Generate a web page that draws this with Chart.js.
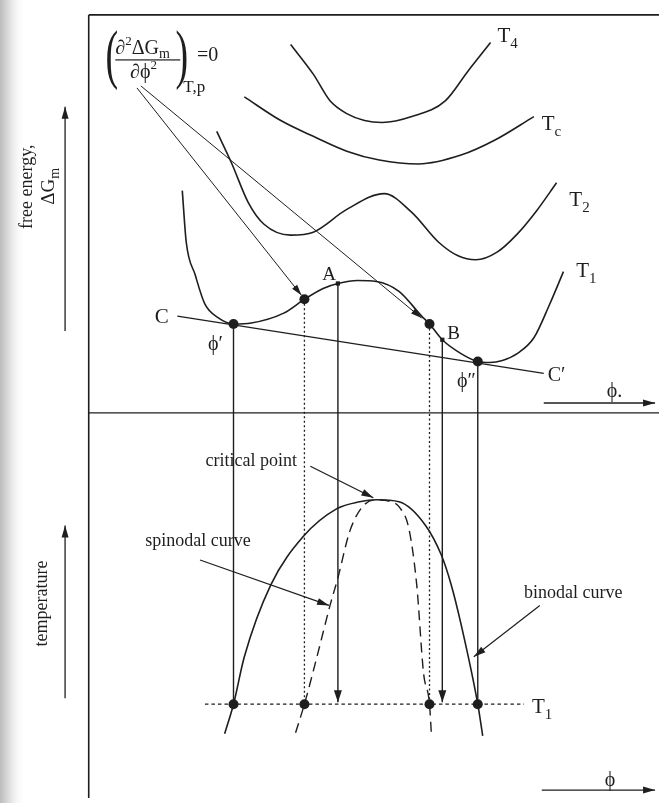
<!DOCTYPE html>
<html><head><meta charset="utf-8">
<script src="https://cdn.jsdelivr.net/npm/chart.js@4.4.1/dist/chart.umd.min.js"></script>
<style>html,body{margin:0;padding:0;background:#fff;overflow:hidden}#wrap{width:664px;height:803px;position:relative}</style>
</head><body><div id="wrap"><canvas id="c" width="664" height="803"></canvas></div>
<script>
// ---------- DATA (diagram units: x = composition phi, y = plotted height, top-down) ----------
// Free-energy curves at temperatures T4 > Tc > T2 > T1
const t4X = [290, 313, 330, 347, 365, 383, 413, 447, 470, 493];
const t4Y = [40, 70, 97, 110, 117, 119, 113, 97, 67, 38];
const tcX = [243, 280, 313, 347, 380, 420, 463, 497, 537];
const tcY = [93, 117, 133, 148, 157, 161, 152, 137, 113];
const t2X = [215, 230, 247, 263, 290, 313, 347, 385, 413, 440, 460, 478, 500, 520, 540, 560];
const t2Y = [128, 160, 200, 222, 233, 230, 207, 191, 210, 240, 254, 258, 250, 232, 208, 180];
const t1X = [180, 184, 193, 203, 217, 232, 250, 283, 304, 323, 338, 358, 377, 400, 423, 431, 444, 463, 480, 492, 505, 520, 537, 553, 567];
const t1Y = [188, 240, 273, 303, 317, 323, 322, 312, 298, 287, 282, 279, 280, 290, 315, 323, 339, 353, 361, 362, 360, 353, 337, 303, 270];
// common tangent C–C'
const tangentX = [175, 547];
const tangentY = [315, 373];
// characteristic compositions on T1
const binodalPhi = [232, 480];          // phi', phi''
const binodalG = [323, 361];
const spinodalPhi = [304, 431];
const spinodalG = [298, 323];
const pointsABPhi = [338, 444];          // A, B
const pointsABG = [282, 339];
// phase diagram (lower panel)
const binodalCurveX = [223, 232, 243, 270, 303, 337, 360, 377, 400, 427, 443, 453, 463, 480, 485];
const binodalCurveY = [738, 708, 660, 587, 538, 510, 503, 501, 503, 527, 557, 587, 627, 708, 740];
const spinodalCurveX = [295, 304, 318, 330, 338, 350, 363, 377, 392, 400, 410, 418, 425, 431, 433];
const spinodalCurveY = [737, 708, 655, 608, 580, 533, 508, 501, 503, 508, 530, 587, 677, 708, 740];
const t1LevelY = 708;
const t1LevelX = [203, 527];

// ---------- drawing helpers ----------
const INK = '#1e1e1e';
const SERIF = "'Liberation Serif','DejaVu Serif',serif";
function pts(xs, ys){ return xs.map((x,i)=>({x:x, y:ys[i]})); }
function curve(xs, ys, w, extra){
  return Object.assign({data:pts(xs,ys), showLine:true, pointRadius:0, pointHoverRadius:0,
    borderColor:INK, backgroundColor:INK, borderWidth:w, cubicInterpolationMode:'monotone', clip:false}, extra||{});
}
function seg(xs, ys, w, extra){ return curve(xs, ys, w, Object.assign({cubicInterpolationMode:'default', tension:0}, extra||{})); }
function dots(xs, ys, r, style){
  return {data:pts(xs,ys), showLine:false, pointRadius:r, pointHoverRadius:r, pointStyle:style||'circle',
    pointBackgroundColor:INK, pointBorderColor:INK, pointBorderWidth:0, clip:false};
}

const datasets = [];
// frame
datasets.push(seg([85,85],[10,803],1.6));
datasets.push(seg([85,664],[10,10],1.6));
datasets.push(seg([85,664],[413,413],1.4));
// axis arrows
datasets.push(seg([61,61],[330,103],1.3,{arrowHead:[12,3.5]}));
datasets.push(seg([61,61],[702,527],1.3,{arrowHead:[12,3.5]}));
datasets.push(seg([547,660],[403,403],1.3,{arrowHead:[12,3.5]}));
datasets.push(seg([545,660],[795,795],1.3,{arrowHead:[12,3.5]}));
// free energy curves
datasets.push(curve(t4X,t4Y,1.6));
datasets.push(curve(tcX,tcY,1.6));
datasets.push(curve(t2X,t2Y,1.6));
datasets.push(curve(t1X,t1Y,1.6));
datasets.push(seg(tangentX,tangentY,1.4));
// pointer lines from the spinodal condition
datasets.push(seg([134,spinodalPhi[0]-3],[84,spinodalG[0]-4],1,{arrowHead:[11,3.2]}));
datasets.push(seg([138,spinodalPhi[1]-8],[82,spinodalG[1]-6],1,{arrowHead:[11,3.2]}));
// vertical projections
datasets.push(seg([binodalPhi[0],binodalPhi[0]],[binodalG[0],t1LevelY],1.4));
datasets.push(seg([binodalPhi[1],binodalPhi[1]],[binodalG[1],t1LevelY],1.4));
datasets.push(seg([spinodalPhi[0],spinodalPhi[0]],[spinodalG[0],t1LevelY],1.3,{borderDash:[2,2.5]}));
datasets.push(seg([spinodalPhi[1],spinodalPhi[1]],[spinodalG[1],t1LevelY],1.3,{borderDash:[2,2.5]}));
datasets.push(seg([pointsABPhi[0],pointsABPhi[0]],[pointsABG[0],t1LevelY-2],1.4,{arrowHead:[12,4]}));
datasets.push(seg([pointsABPhi[1],pointsABPhi[1]],[pointsABG[1],t1LevelY-2],1.4,{arrowHead:[12,4]}));
// T1 level
datasets.push(seg(t1LevelX,[t1LevelY,t1LevelY],1.3,{borderDash:[3.5,3]}));
// phase diagram curves
datasets.push(curve(binodalCurveX,binodalCurveY,1.6));
datasets.push(curve(spinodalCurveX,spinodalCurveY,1.4,{borderDash:[10,6]}));
// annotation arrows
datasets.push(seg([310,374],[467,499],1.2,{arrowHead:[12,3.5]}));
datasets.push(seg([198,329],[562,608],1.2,{arrowHead:[12,3.5]}));
datasets.push(seg([543,476],[608,660],1.2,{arrowHead:[12,3.5]}));
// points
datasets.push(dots(binodalPhi,binodalG,5));
datasets.push(dots(spinodalPhi,spinodalG,5));
datasets.push(dots(pointsABPhi,pointsABG,3,'rect'));
datasets.push(dots(binodalPhi.concat(spinodalPhi),[t1LevelY,t1LevelY,t1LevelY,t1LevelY],5));

// ---------- plugins ----------
const bgPlugin = { id:'bg', beforeDraw(chart){
  const ctx = chart.ctx; ctx.save();
  ctx.fillStyle = '#fff'; ctx.fillRect(0,0,chart.width,chart.height);
  const g = ctx.createLinearGradient(0,0,26,0);
  g.addColorStop(0,'#bcbcbc'); g.addColorStop(0.35,'#dedede'); g.addColorStop(1,'rgba(255,255,255,0)');
  ctx.fillStyle = g; ctx.fillRect(0,0,26,chart.height);
  ctx.restore();
}};
const arrowPlugin = { id:'arrows', afterDatasetsDraw(chart){
  const ctx = chart.ctx, sx = chart.scales.x, sy = chart.scales.y;
  chart.data.datasets.forEach(ds=>{
    if(!ds.arrowHead) return;
    const n = ds.data.length, a = ds.data[n-2], b = ds.data[n-1];
    const x1 = sx.getPixelForValue(a.x), y1 = sy.getPixelForValue(a.y);
    const x2 = sx.getPixelForValue(b.x), y2 = sy.getPixelForValue(b.y);
    const ang = Math.atan2(y2-y1, x2-x1), L = ds.arrowHead[0], W = ds.arrowHead[1];
    const c = Math.cos(ang), s = Math.sin(ang);
    ctx.save(); ctx.fillStyle = INK; ctx.beginPath();
    ctx.moveTo(x2,y2);
    ctx.lineTo(x2-L*c+W*s, y2-L*s-W*c);
    ctx.lineTo(x2-L*c-W*s, y2-L*s+W*c);
    ctx.closePath(); ctx.fill(); ctx.restore();
  });
}};
function rich(ctx, x, y, parts){
  let cx = x;
  parts.forEach(p=>{
    ctx.font = (p.s||20)+'px '+SERIF;
    ctx.fillText(p.t, cx, y+(p.dy||0));
    cx += ctx.measureText(p.t).width + (p.gap||0);
  });
  return cx;
}
const textPlugin = { id:'texts', afterDraw(chart){
  const ctx = chart.ctx, sx = chart.scales.x, sy = chart.scales.y;
  const X = v=>sx.getPixelForValue(v), Y = v=>sy.getPixelForValue(v);
  ctx.save(); ctx.fillStyle = INK; ctx.textBaseline = 'alphabetic'; ctx.textAlign = 'left';
  // temperature labels
  rich(ctx, X(500), Y(37), [{t:'T',s:21},{t:'4',s:15,dy:6}]);
  rich(ctx, X(545), Y(127), [{t:'T',s:21},{t:'c',s:15,dy:6}]);
  rich(ctx, X(573), Y(204), [{t:'T',s:21},{t:'2',s:15,dy:6}]);
  rich(ctx, X(580), Y(275), [{t:'T',s:21},{t:'1',s:15,dy:6}]);
  rich(ctx, X(535), Y(717), [{t:'T',s:21},{t:'1',s:15,dy:6}]);
  // point letters
  rich(ctx, X(152), Y(322), [{t:'C',s:21}]);
  rich(ctx, X(551), Y(381), [{t:'C′',s:20}]);
  rich(ctx, X(322), Y(278), [{t:'A',s:19}]);
  rich(ctx, X(449), Y(338), [{t:'B',s:19}]);
  rich(ctx, X(206), Y(349), [{t:'ϕ′',s:20}]);
  rich(ctx, X(459), Y(387), [{t:'ϕ″',s:20}]);
  rich(ctx, X(611), Y(397), [{t:'ϕ.',s:20}]);
  rich(ctx, X(609), Y(791), [{t:'ϕ',s:20}]);
  // phase diagram labels
  ctx.font = '18px '+SERIF; ctx.textAlign = 'center';
  ctx.fillText('critical point', X(250), Y(467));
  ctx.fillText('spinodal curve', X(196), Y(548));
  ctx.fillText('binodal curve', X(577), Y(600));
  // axis titles (rotated)
  ctx.save(); ctx.translate(X(27), Y(184)); ctx.rotate(-Math.PI/2);
  ctx.font = '18px '+SERIF; ctx.textAlign='center'; ctx.fillText('free energy,', 0, 0);
  ctx.textAlign='left'; rich(ctx, -18, 22, [{t:'ΔG',s:19},{t:'m',s:14,dy:5}]);
  ctx.restore();
  ctx.save(); ctx.translate(X(43), Y(606)); ctx.rotate(-Math.PI/2);
  ctx.font = '18px '+SERIF; ctx.textAlign='center'; ctx.fillText('temperature', 0, 0);
  ctx.restore();
  // spinodal condition formula
  ctx.textAlign='left';
  ctx.save(); ctx.translate(X(102), Y(72)); ctx.scale(1,1.7); ctx.font='38px '+SERIF; ctx.fillText('(',0,0); ctx.restore();
  ctx.save(); ctx.translate(X(173), Y(72)); ctx.scale(1,1.7); ctx.font='38px '+SERIF; ctx.fillText(')',0,0); ctx.restore();
  rich(ctx, X(112), Y(50), [{t:'∂',s:20},{t:'2',s:13,dy:-9},{t:'ΔG',s:20},{t:'m',s:14,dy:4}]);
  ctx.fillRect(X(112), Y(55), X(178)-X(112), 1.2);
  rich(ctx, X(127), Y(74), [{t:'∂ϕ',s:20},{t:'2',s:13,dy:-9}]);
  rich(ctx, X(181), Y(88), [{t:'T,p',s:17}]);
  rich(ctx, X(195), Y(57), [{t:'=0',s:20}]);
  ctx.restore();
}};

new Chart(document.getElementById('c'), {
  type:'scatter',
  data:{datasets:datasets},
  options:{
    responsive:false, animation:false, events:[],
    layout:{padding:0},
    scales:{
      x:{type:'linear', min:0, max:664, display:false},
      y:{type:'linear', min:0, max:803, reverse:true, display:false}
    },
    plugins:{legend:{display:false}, tooltip:{enabled:false}, title:{display:false}}
  },
  plugins:[bgPlugin, arrowPlugin, textPlugin]
});
</script></body></html>
